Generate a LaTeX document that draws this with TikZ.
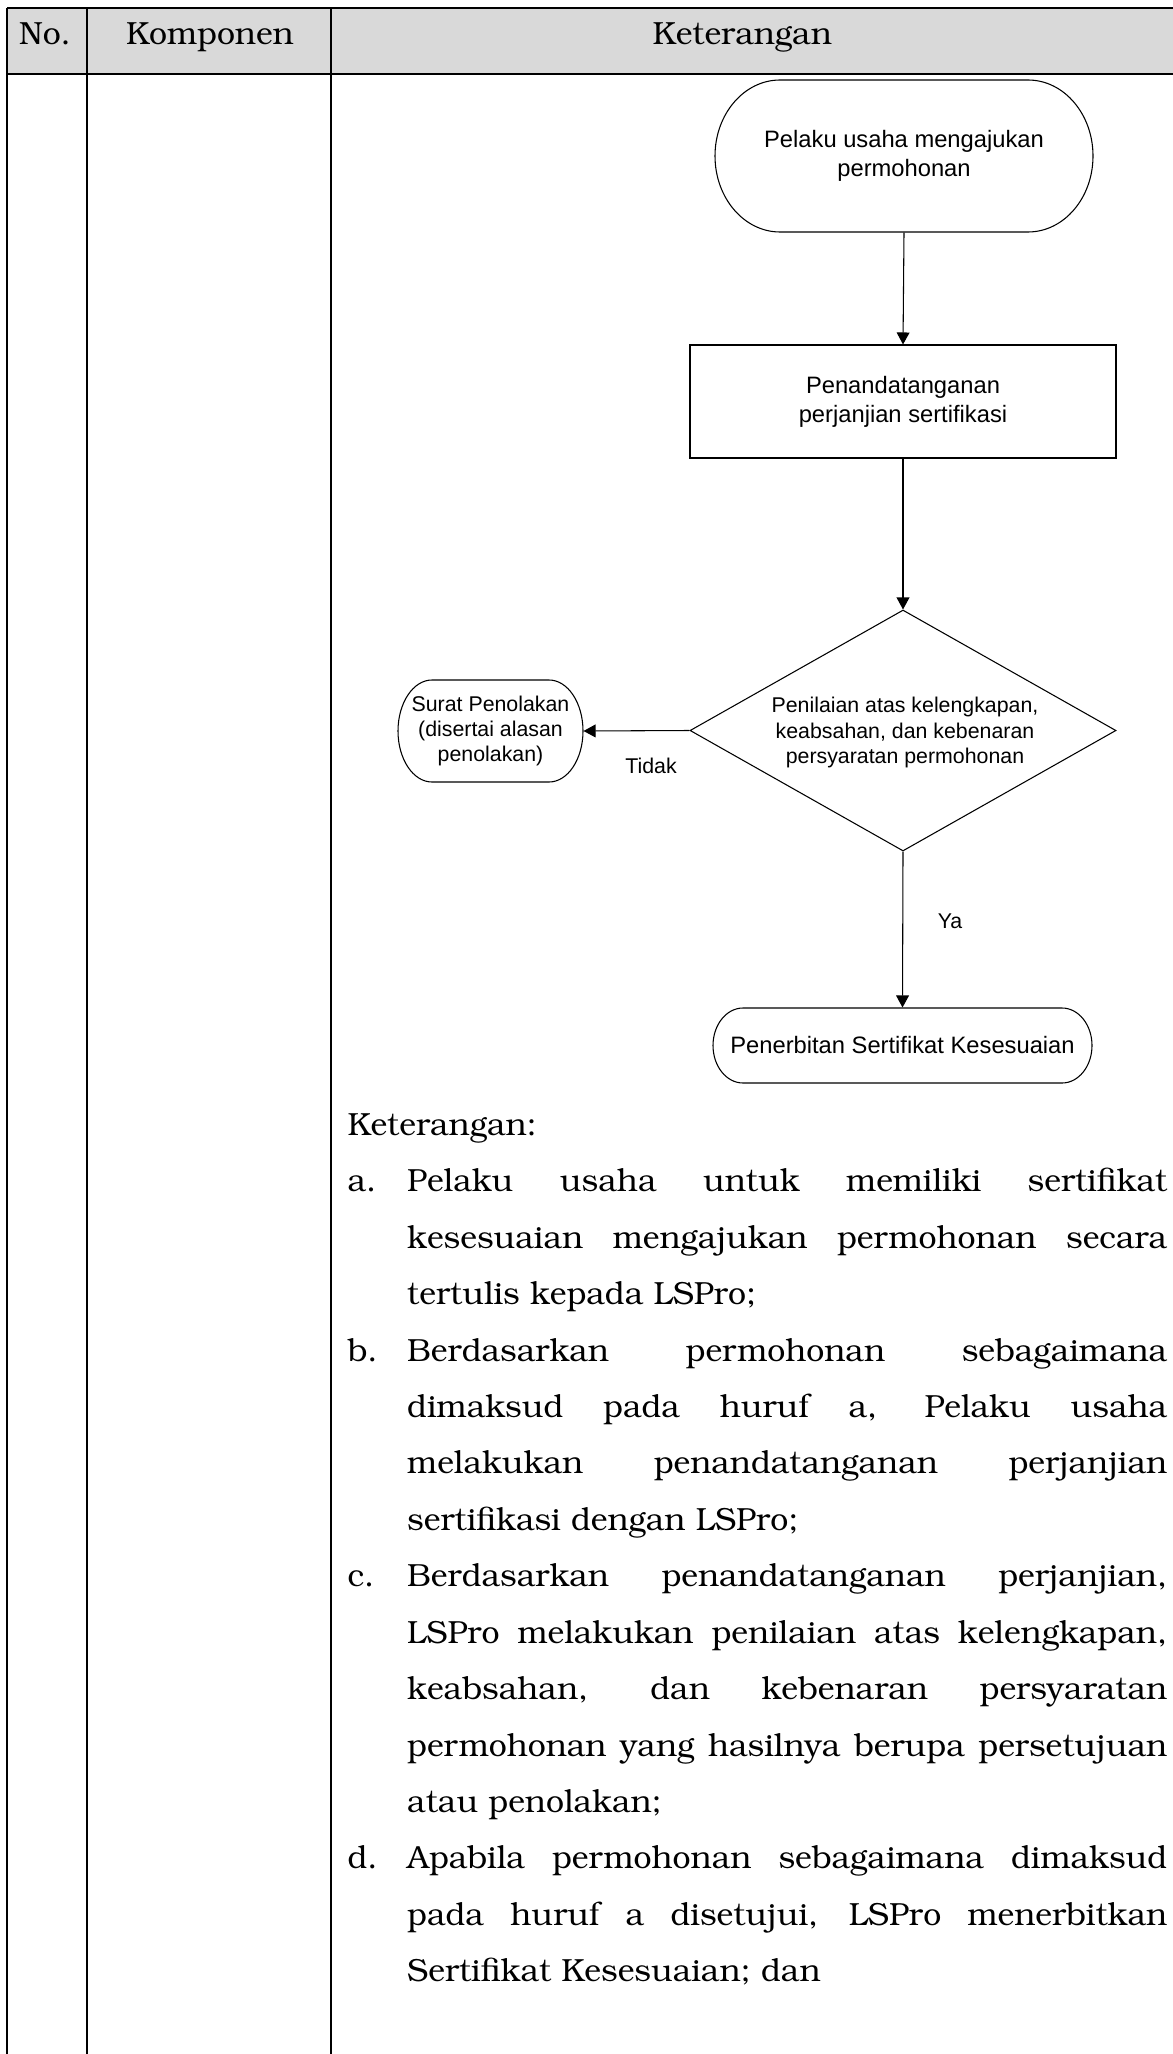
\documentclass[tikz,border=0pt]{standalone}
\usepackage[T1]{fontenc}
\usepackage{fontspec}
\newfontfamily\arial{Liberation Sans}
\newcommand\bk{\fontencoding{T1}\fontfamily{pbk}\fontseries{m}\fontshape{n}\selectfont}
\usetikzlibrary{arrows.meta,shapes.geometric}
\definecolor{hdrgray}{HTML}{D9D9D9}
\newcommand\jl[1]{\makebox[285pt][s]{#1}}
\tikzset{
  tbl/.style={line width=0.8pt, black},
  flow/.style={line width=0.4pt, black},
  arr/.style={flow, -{Triangle[length=4.5pt,width=4.8pt]}},
  hdr/.style={anchor=base, inner sep=0, font={\bk\fontsize{12}{14}\selectfont}},
  txt/.style={anchor=base west, inner sep=0, font={\bk\fontsize{12}{14}\selectfont}},
  fbig/.style={inner sep=0, align=center, font={\arial\fontsize{8.9}{10.9}\selectfont}},
  fsmall/.style={inner sep=0, align=center, font={\arial\fontsize{8}{9.4}\selectfont}},
}
\begin{document}
\begin{tikzpicture}[x=0.375pt, y=-0.375pt]
\useasboundingbox (0,0) rectangle (1172,2054);
% table
\fill[hdrgray] (7,7.8) rectangle (1180,73.7);
\draw[tbl] (7,7.8) -- (1180,7.8);
\draw[tbl] (7,73.7) -- (1180,73.7);
\draw[tbl] (7,7.8) -- (7,2060);
\draw[tbl] (87,7.8) -- (87,2060);
\draw[tbl] (331,7.8) -- (331,2060);
\node[hdr] (hno) at (45,45) {No.};
\node[hdr] (hkomp) at (210,45) {Komponen};
\node[hdr] (hket) at (742.3,45) {Keterangan};

% flowchart nodes
\node[fbig, minimum width={378*0.375pt}, minimum height={152*0.375pt}] (st) at (904,156) {Pelaku usaha mengajukan\\permohonan};
\draw[flow] (780,80) -- (1028,80) arc[start angle=-90,end angle=90,x radius=65,y radius=76] -- (780,232) arc[start angle=90,end angle=270,x radius=65,y radius=76] -- cycle;

\node[fbig, draw, flow, minimum width={426*0.375pt}, minimum height={113*0.375pt}] (rc) at (903,401.5) {Penandatanganan\\perjanjian sertifikasi};

\node[diamond, draw, flow, inner sep=0, minimum width={426*0.375pt}, minimum height={241*0.375pt}] (dia) at (903,730.5) {};
\node[fsmall] (diat) at (905,732.5) {Penilaian atas kelengkapan,\\keabsahan, dan kebenaran\\persyaratan permohonan};

\node[fsmall, minimum width={185*0.375pt}, minimum height={102*0.375pt}] (sp) at (490.5,731) {Surat Penolakan\\(disertai alasan\\penolakan)};
\draw[flow] (432,680) -- (549,680) arc[start angle=-90,end angle=90,x radius=34,y radius=51] -- (432,782) arc[start angle=90,end angle=270,x radius=34,y radius=51] -- cycle;

\node[fbig, minimum width={379*0.375pt}, minimum height={75*0.375pt}] (en) at (902.5,1045.5) {Penerbitan Sertifikat Kesesuaian};
\draw[flow] (743,1008) -- (1062,1008) arc[start angle=-90,end angle=90,x radius=30,y radius=37.5] -- (743,1083) arc[start angle=90,end angle=270,x radius=30,y radius=37.5] -- cycle;

% connectors
\draw[arr] (st.south) -- (rc.north);
\draw[arr] (rc.south) -- (dia.north);
\draw[arr] (dia.west) -- (sp.east);
\draw[arr] (dia.south) -- (en.north);
\node[fsmall, anchor=base] (tidak) at (651,773) {Tidak};
\node[fsmall, anchor=base] (ya) at (950,928) {Ya};

% text
\node[txt] (ket) at (347,1135.3) {Keterangan:};
\node[txt] (la) at (347,1191.7) {a.};
\node[txt] (a0) at (406.7,1191.7) {\jl{Pelaku usaha untuk memiliki sertifikat}};
\node[txt] (a1) at (406.7,1248.1) {\jl{kesesuaian mengajukan permohonan secara}};
\node[txt] (a2) at (406.7,1304.6) {tertulis kepada LSPro;};
\node[txt] (lb) at (347,1361.0) {b.};
\node[txt] (b0) at (406.7,1361.0) {\jl{Berdasarkan permohonan sebagaimana}};
\node[txt] (b1) at (406.7,1417.4) {\jl{dimaksud pada huruf a, Pelaku usaha}};
\node[txt] (b2) at (406.7,1473.9) {\jl{melakukan penandatanganan perjanjian}};
\node[txt] (b3) at (406.7,1530.3) {sertifikasi dengan LSPro;};
\node[txt] (lc) at (347,1586.7) {c.};
\node[txt] (c0) at (406.7,1586.7) {\jl{Berdasarkan penandatanganan perjanjian,}};
\node[txt] (c1) at (406.7,1643.1) {\jl{LSPro melakukan penilaian atas kelengkapan,}};
\node[txt] (c2) at (406.7,1699.6) {\jl{keabsahan, dan kebenaran persyaratan}};
\node[txt] (c3) at (406.7,1756.0) {\jl{permohonan yang hasilnya berupa persetujuan}};
\node[txt] (c4) at (406.7,1812.4) {atau penolakan;};
\node[txt] (ld) at (347,1868.9) {d.};
\node[txt] (d0) at (406.7,1868.9) {\jl{Apabila permohonan sebagaimana dimaksud}};
\node[txt] (d1) at (406.7,1925.3) {\jl{pada huruf a disetujui, LSPro menerbitkan}};
\node[txt] (d2) at (406.7,1981.7) {Sertifikat Kesesuaian; dan};
\end{tikzpicture}
\end{document}
